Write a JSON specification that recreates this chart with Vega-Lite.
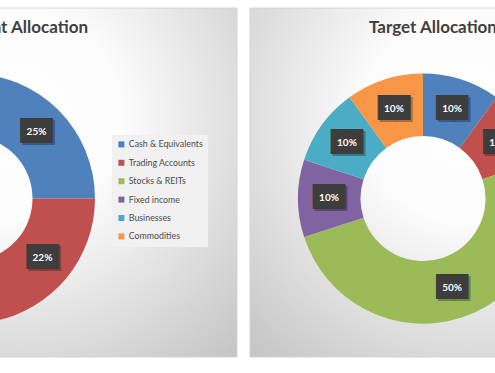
{
  "$schema": "https://vega.github.io/schema/vega-lite/v6.json",
  "width": 495,
  "height": 373,
  "autosize": "none",
  "padding": 0,
  "background": "#ffffff",
  "config": {"view": {"stroke": null}, "font": "Lato"},
  "datasets": {
    "panels": [
      {"chart": "Current Allocation"},
      {"chart": "Target Allocation"}
    ],
    "current": [
      {"chart": "Current Allocation", "category": "Cash & Equivalents", "share": 0.25},
      {"chart": "Current Allocation", "category": "Trading Accounts", "share": 0.22},
      {"chart": "Current Allocation", "category": "Stocks & REITs", "share": 0.33},
      {"chart": "Current Allocation", "category": "Fixed income", "share": 0.10},
      {"chart": "Current Allocation", "category": "Businesses", "share": 0.05},
      {"chart": "Current Allocation", "category": "Commodities", "share": 0.05}
    ],
    "target": [
      {"chart": "Target Allocation", "category": "Cash & Equivalents", "share": 0.10},
      {"chart": "Target Allocation", "category": "Trading Accounts", "share": 0.10},
      {"chart": "Target Allocation", "category": "Stocks & REITs", "share": 0.50},
      {"chart": "Target Allocation", "category": "Fixed income", "share": 0.10},
      {"chart": "Target Allocation", "category": "Businesses", "share": 0.10},
      {"chart": "Target Allocation", "category": "Commodities", "share": 0.10}
    ]
  },
  "layer": [
    {
      "data": {"name": "panels"},
      "mark": {
        "type": "rect",
        "stroke": "#d4d4d4",
        "strokeWidth": 1,
        "fill": {
          "gradient": "radial",
          "x1": 0.5, "y1": 0.35, "r1": 0,
          "x2": 0.5, "y2": 0.35, "r2": 0.8,
          "stops": [
            {"offset": 0, "color": "#ffffff"},
            {"offset": 0.3, "color": "#fcfcfc"},
            {"offset": 1, "color": "#bdbdbd"}
          ]
        }
      },
      "encoding": {
        "x": {
          "field": "chart", "type": "nominal", "axis": null,
          "scale": {"type": "band", "domain": ["Current Allocation", "Target Allocation"], "range": [-203, 690], "paddingInner": 0.0287, "paddingOuter": 0}
        },
        "y": {
          "datum": "panel", "type": "nominal", "axis": null,
          "scale": {"type": "band", "domain": ["panel"], "range": [8, 357], "paddingInner": 0, "paddingOuter": 0}
        }
      }
    },
    {
      "data": {"name": "current"},
      "transform": [{"window": [{"op": "row_number", "as": "idx"}]}],
      "encoding": {
        "theta": {"field": "share", "type": "quantitative", "stack": true, "scale": {"domain": [0, 1]}},
        "order": {"field": "idx", "type": "quantitative"},
        "x": {"field": "chart", "type": "nominal", "bandPosition": 0.3932},
        "y": {"datum": "panel", "type": "nominal", "bandPosition": 0.5458}
      },
      "layer": [
        {
          "mark": {"type": "arc", "radius": 125, "radius2": 62.5},
          "encoding": {
            "color": {
              "field": "category", "type": "nominal",
              "scale": {
                "domain": ["Cash & Equivalents", "Trading Accounts", "Stocks & REITs", "Fixed income", "Businesses", "Commodities"],
                "range": ["#4F81BD", "#C0504D", "#9BBB59", "#8064A2", "#4BACC6", "#F79646"]
              },
              "legend": {
                "title": null, "orient": "none", "legendX": 112, "legendY": 135,
                "symbolType": "square", "symbolSize": 36, "symbolStrokeWidth": 0,
                "labelFont": "Lato", "labelFontSize": 8.8, "labelColor": "#4a4a4a",
                "rowPadding": 8.4, "padding": 5, "labelOffset": 3,
                "fillColor": "#f1f1f1"
              }
            }
          }
        },
        {
          "mark": {"type": "text", "radius": 94, "text": "██", "font": "DejaVu Sans", "fontSize": 21, "baseline": "middle", "align": "center", "dx": 2, "dy": 2, "color": "rgba(0,0,0,0.3)"}
        },
        {
          "mark": {"type": "text", "radius": 94, "text": "██", "font": "DejaVu Sans", "fontSize": 21, "baseline": "middle", "align": "center", "color": "#3d3d3d"}
        },
        {
          "mark": {"type": "text", "radius": 94, "font": "Lato", "fontWeight": "bold", "fontSize": 10, "baseline": "middle", "align": "center", "color": "#ffffff"},
          "encoding": {"text": {"field": "share", "type": "quantitative", "format": ".0%"}}
        }
      ]
    },
    {
      "data": {"name": "target"},
      "transform": [{"window": [{"op": "row_number", "as": "idx"}]}],
      "encoding": {
        "theta": {"field": "share", "type": "quantitative", "stack": true, "scale": {"domain": [0, 1]}},
        "order": {"field": "idx", "type": "quantitative"},
        "x": {"field": "chart", "type": "nominal", "bandPosition": 0.3932},
        "y": {"datum": "panel", "type": "nominal", "bandPosition": 0.5458}
      },
      "layer": [
        {
          "mark": {"type": "arc", "radius": 125, "radius2": 62.5},
          "encoding": {"color": {"field": "category", "type": "nominal"}}
        },
        {
          "mark": {"type": "text", "radius": 94, "text": "██", "font": "DejaVu Sans", "fontSize": 21, "baseline": "middle", "align": "center", "dx": 2, "dy": 2, "color": "rgba(0,0,0,0.3)"}
        },
        {
          "mark": {"type": "text", "radius": 94, "text": "██", "font": "DejaVu Sans", "fontSize": 21, "baseline": "middle", "align": "center", "color": "#3d3d3d"}
        },
        {
          "mark": {"type": "text", "radius": 94, "font": "Lato", "fontWeight": "bold", "fontSize": 10, "baseline": "middle", "align": "center", "color": "#ffffff"},
          "encoding": {"text": {"field": "share", "type": "quantitative", "format": ".0%"}}
        }
      ]
    },
    {
      "data": {"name": "panels"},
      "transform": [{"filter": "datum.chart === 'Current Allocation'"}],
      "mark": {"type": "text", "font": "Lato", "fontWeight": "bold", "fontSize": 17, "color": "#404040", "align": "right", "baseline": "middle"},
      "encoding": {
        "text": {"field": "chart", "type": "nominal"},
        "x": {"field": "chart", "type": "nominal", "bandPosition": 0.6614},
        "y": {"datum": "panel", "type": "nominal", "bandPosition": 0.0573}
      }
    },
    {
      "data": {"name": "panels"},
      "transform": [{"filter": "datum.chart === 'Target Allocation'"}],
      "mark": {"type": "text", "font": "Lato", "fontWeight": "bold", "fontSize": 17, "color": "#404040", "align": "left", "baseline": "middle"},
      "encoding": {
        "text": {"field": "chart", "type": "nominal"},
        "x": {"field": "chart", "type": "nominal", "bandPosition": 0.2705},
        "y": {"datum": "panel", "type": "nominal", "bandPosition": 0.0573}
      }
    }
  ]
}
